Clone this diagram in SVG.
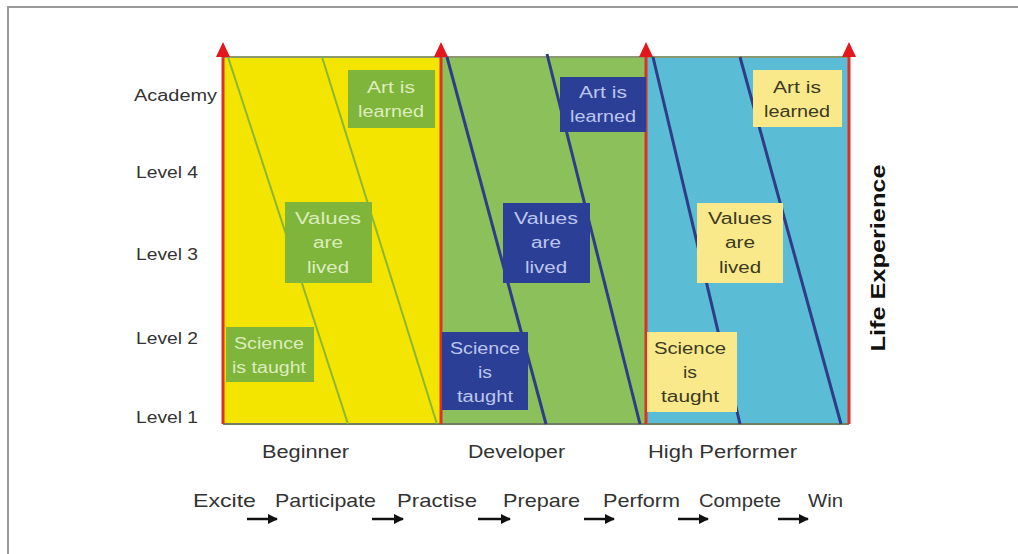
<svg xmlns="http://www.w3.org/2000/svg" width="1018" height="554" viewBox="0 0 1018 554">
  <style>
    .lbl { font-family: "Liberation Sans", Arial, sans-serif; fill: #333; }
    .axis { font-size: 16px; }
    .stage { font-size: 18px; }
    .seq { font-size: 19px; }
    .box { font-family: "Liberation Sans", Arial, sans-serif; font-size: 16px; text-anchor: middle; }
    .gbox rect { fill: #7fb53b; }
    .gbox text { fill: #dcedbd; }
    .bbox rect { fill: #2c3f97; }
    .bbox text { fill: #bcc6ef; }
    .ybox rect { fill: #f9e98b; }
    .ybox text { fill: #3b3a22; }
    .redline { stroke: #dc3226; stroke-width: 3; }
    .diag-g { stroke: #8ab636; stroke-width: 2; }
    .diag-b { stroke: #2f3c88; stroke-width: 3; }
  </style>
  <defs>
    <marker id="arr" viewBox="0 0 10 10" refX="9" refY="5" markerWidth="4" markerHeight="4" orient="auto">
      <path d="M0,0 L10,5 L0,10 z" fill="#111"/>
    </marker>
  </defs>

  <rect width="1018" height="554" fill="#ffffff"/>
  <!-- page frame -->
  <path d="M8,554 V7 H1018" fill="none" stroke="#9a9a9a" stroke-width="2"/>

  <!-- stage panels -->
  <g id="panel-beginner"><rect x="223" y="57" width="218" height="367" fill="#f4e500"/></g>
  <g id="panel-developer"><rect x="441" y="57" width="205" height="367" fill="#8cc05a"/></g>
  <g id="panel-performer"><rect x="646" y="57" width="203" height="367" fill="#5bbdd5"/></g>

  <!-- frame lines top and bottom -->
  <line x1="223" y1="57" x2="849" y2="57" stroke="#8a9a70" stroke-width="2"/>
  <line x1="223" y1="424" x2="849" y2="424" stroke="#6f7f60" stroke-width="2"/>

  <!-- diagonal progress lines -->
  <g id="connectors">
    <line class="diag-g" x1="228" y1="57" x2="348" y2="424"/>
    <line class="diag-g" x1="322" y1="57" x2="437" y2="424"/>
    <line class="diag-b" x1="447" y1="57" x2="546" y2="424"/>
    <line class="diag-b" x1="547" y1="54" x2="640" y2="424"/>
    <line class="diag-b" x1="653" y1="57" x2="740" y2="424"/>
    <line class="diag-b" x1="740" y1="57" x2="841" y2="424"/>
  </g>

  <!-- stage boundaries with arrowheads -->
  <g id="boundaries">
    <line class="redline" x1="223" y1="52" x2="223" y2="424"/>
    <line class="redline" x1="441" y1="52" x2="441" y2="424"/>
    <line class="redline" x1="646" y1="52" x2="646" y2="424"/>
    <line class="redline" x1="849" y1="52" x2="849" y2="424"/>
    <path d="M223,42 L216,57 L230,57 z" fill="#e4161c"/>
    <path d="M441,42 L434,57 L448,57 z" fill="#e4161c"/>
    <path d="M646,42 L639,57 L653,57 z" fill="#e4161c"/>
    <path d="M849,42 L842,57 L856,57 z" fill="#e4161c"/>
  </g>

  <!-- Beginner labels -->
  <g id="b-art" class="gbox">
    <rect x="348" y="70" width="87" height="58"/>
    <text class="box" x="391" y="93" textLength="48" lengthAdjust="spacingAndGlyphs">Art is</text>
    <text class="box" x="391" y="117" textLength="66" lengthAdjust="spacingAndGlyphs">learned</text>
  </g>
  <g id="b-values" class="gbox">
    <rect x="285" y="202" width="87" height="81"/>
    <text class="box" x="328" y="224" textLength="66" lengthAdjust="spacingAndGlyphs">Values</text>
    <text class="box" x="328" y="248" textLength="30" lengthAdjust="spacingAndGlyphs">are</text>
    <text class="box" x="328" y="273" textLength="42" lengthAdjust="spacingAndGlyphs">lived</text>
  </g>
  <g id="b-science" class="gbox">
    <rect x="226" y="327" width="88" height="55"/>
    <text class="box" x="269" y="349" textLength="70" lengthAdjust="spacingAndGlyphs">Science</text>
    <text class="box" x="269" y="373" textLength="74" lengthAdjust="spacingAndGlyphs">is taught</text>
  </g>

  <!-- Developer labels -->
  <g id="d-art" class="bbox">
    <rect x="560" y="77" width="86" height="55"/>
    <text class="box" x="603" y="98" textLength="48" lengthAdjust="spacingAndGlyphs">Art is</text>
    <text class="box" x="603" y="122" textLength="66" lengthAdjust="spacingAndGlyphs">learned</text>
  </g>
  <g id="d-values" class="bbox">
    <rect x="503" y="203" width="87" height="80"/>
    <text class="box" x="546" y="224" textLength="64" lengthAdjust="spacingAndGlyphs">Values</text>
    <text class="box" x="546" y="248" textLength="30" lengthAdjust="spacingAndGlyphs">are</text>
    <text class="box" x="546" y="273" textLength="42" lengthAdjust="spacingAndGlyphs">lived</text>
  </g>
  <g id="d-science" class="bbox">
    <rect x="442" y="332" width="86" height="78"/>
    <text class="box" x="485" y="354" textLength="70" lengthAdjust="spacingAndGlyphs">Science</text>
    <text class="box" x="485" y="378" textLength="14" lengthAdjust="spacingAndGlyphs">is</text>
    <text class="box" x="485" y="402" textLength="56" lengthAdjust="spacingAndGlyphs">taught</text>
  </g>

  <!-- High Performer labels -->
  <g id="h-art" class="ybox">
    <rect x="753" y="70" width="89" height="57"/>
    <text class="box" x="797" y="93" textLength="48" lengthAdjust="spacingAndGlyphs">Art is</text>
    <text class="box" x="797" y="117" textLength="66" lengthAdjust="spacingAndGlyphs">learned</text>
  </g>
  <g id="h-values" class="ybox">
    <rect x="697" y="203" width="86" height="80"/>
    <text class="box" x="740" y="224" textLength="64" lengthAdjust="spacingAndGlyphs">Values</text>
    <text class="box" x="740" y="248" textLength="30" lengthAdjust="spacingAndGlyphs">are</text>
    <text class="box" x="740" y="273" textLength="42" lengthAdjust="spacingAndGlyphs">lived</text>
  </g>
  <g id="h-science" class="ybox">
    <rect x="647" y="332" width="90" height="80"/>
    <text class="box" x="690" y="354" textLength="72" lengthAdjust="spacingAndGlyphs">Science</text>
    <text class="box" x="690" y="378" textLength="14" lengthAdjust="spacingAndGlyphs">is</text>
    <text class="box" x="690" y="402" textLength="58" lengthAdjust="spacingAndGlyphs">taught</text>
  </g>

  <!-- level axis -->
  <g id="levels" class="lbl axis">
    <text x="134" y="101" textLength="83" lengthAdjust="spacingAndGlyphs">Academy</text>
    <text x="136" y="178" textLength="62" lengthAdjust="spacingAndGlyphs">Level 4</text>
    <text x="136" y="260" textLength="62" lengthAdjust="spacingAndGlyphs">Level 3</text>
    <text x="136" y="344" textLength="62" lengthAdjust="spacingAndGlyphs">Level 2</text>
    <text x="136" y="423" textLength="62" lengthAdjust="spacingAndGlyphs">Level 1</text>
  </g>

  <!-- experience axis title -->
  <g id="life-experience">
    <text x="0" y="0" transform="translate(885,258) rotate(-90)" font-family="'Liberation Sans', Arial, sans-serif" font-size="20" font-weight="bold" fill="#111" text-anchor="middle" textLength="187" lengthAdjust="spacingAndGlyphs">Life Experience</text>
  </g>

  <!-- stage names -->
  <g id="stages" class="lbl stage">
    <text x="262" y="458" textLength="87" lengthAdjust="spacingAndGlyphs">Beginner</text>
    <text x="468" y="458" textLength="97" lengthAdjust="spacingAndGlyphs">Developer</text>
    <text x="648" y="458" textLength="149" lengthAdjust="spacingAndGlyphs">High Performer</text>
  </g>

  <!-- pathway steps -->
  <g id="pathway" class="lbl seq">
    <text x="193" y="507" textLength="63" lengthAdjust="spacingAndGlyphs">Excite</text>
    <text x="275" y="507" textLength="101" lengthAdjust="spacingAndGlyphs">Participate</text>
    <text x="397" y="507" textLength="80" lengthAdjust="spacingAndGlyphs">Practise</text>
    <text x="503" y="507" textLength="77" lengthAdjust="spacingAndGlyphs">Prepare</text>
    <text x="603" y="507" textLength="77" lengthAdjust="spacingAndGlyphs">Perform</text>
    <text x="699" y="507" textLength="82" lengthAdjust="spacingAndGlyphs">Compete</text>
    <text x="808" y="507" textLength="35" lengthAdjust="spacingAndGlyphs">Win</text>
  </g>
  <g id="pathway-arrows" stroke="#111" stroke-width="2.5" marker-end="url(#arr)">
    <line x1="247" y1="519" x2="277" y2="519"/>
    <line x1="372" y1="519" x2="403" y2="519"/>
    <line x1="478" y1="519" x2="510" y2="519"/>
    <line x1="584" y1="519" x2="614" y2="519"/>
    <line x1="678" y1="519" x2="708" y2="519"/>
    <line x1="778" y1="519" x2="808" y2="519"/>
  </g>
</svg>
